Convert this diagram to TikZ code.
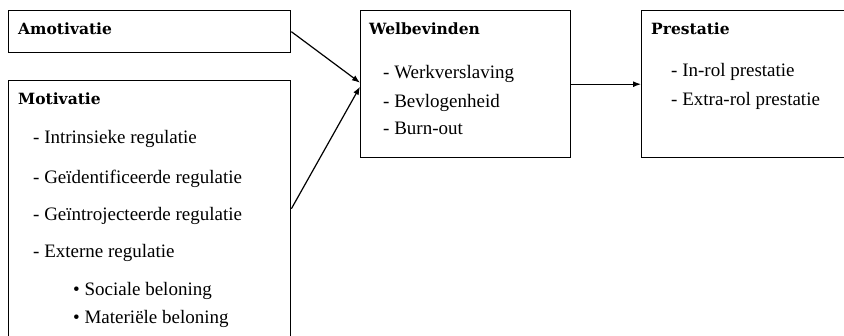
\documentclass[tikz,border=0pt]{standalone}
\usepackage{fontspec}
\setmainfont{Liberation Serif}
\newfontfamily\kopfont{DejaVu Serif}
\usetikzlibrary{arrows,arrows.meta,calc,positioning}

\begin{document}
\begin{tikzpicture}[x=1pt,y=-1pt,
  blok/.style={draw,line width=1.4pt,anchor=north west,inner sep=0pt},
  kop/.style={anchor=base west,inner sep=0pt,font=\kopfont\bfseries\fontsize{15.5}{17}\selectfont},
  punt/.style={anchor=base west,inner sep=0pt,font=\fontsize{19}{21}\selectfont},
  pijl/.style={-{Latex[length=8pt,width=6pt]},line width=1.2pt}]
\useasboundingbox (0,0) rectangle (844,335);

\node[blok,minimum width=282pt,minimum height=42pt] (amo) at (8,10) {};
\node[blok,minimum width=282pt,minimum height=256pt] (mot) at (8,80) {};
\node[blok,minimum width=210pt,minimum height=147pt] (wel) at (360,10) {};
\node[blok,minimum width=210pt,minimum height=147pt] (pres) at (641,10) {};

\node[kop] (amoKop) at ($(amo.north west)+(10,24)$) {Amotivatie};
\node[kop] (motKop) at ($(mot.north west)+(10,24)$) {Motivatie};
\node[kop] (welKop) at ($(wel.north west)+(9,24)$) {Welbevinden};
\node[kop] (presKop) at ($(pres.north west)+(10,24)$) {Prestatie};

\foreach \y/\t [count=\i] in {63/Intrinsieke regulatie,103/Geïdentificeerde regulatie,
  140/Geïntrojecteerde regulatie,177/Externe regulatie}
  \node[punt] (mot\i) at ($(mot.north west)+(25,\y)$) {- \t};
\node[punt] (mot5) at ($(mot.north west)+(65,215)$) {• Sociale beloning};
\node[punt] (mot6) at ($(mot.north west)+(65,243)$) {• Materiële beloning};

\foreach \y/\t [count=\i] in {68/Werkverslaving,97/Bevlogenheid,124/Burn-out}
  \node[punt] (wel\i) at ($(wel.north west)+(23,\y)$) {- \t};

\foreach \y/\t [count=\i] in {66/In-rol prestatie,95/Extra-rol prestatie}
  \node[punt] (pres\i) at ($(pres.north west)+(30,\y)$) {- \t};

\draw[pijl] (amo.east) -- ($(wel.west)+(0,-1.5)$);
\draw[pijl] (mot.east) -- ($(wel.west)+(0,2.5)$);
\draw[pijl] (wel.east) -- (pres.west |- wel.east);

\end{tikzpicture}
\end{document}
